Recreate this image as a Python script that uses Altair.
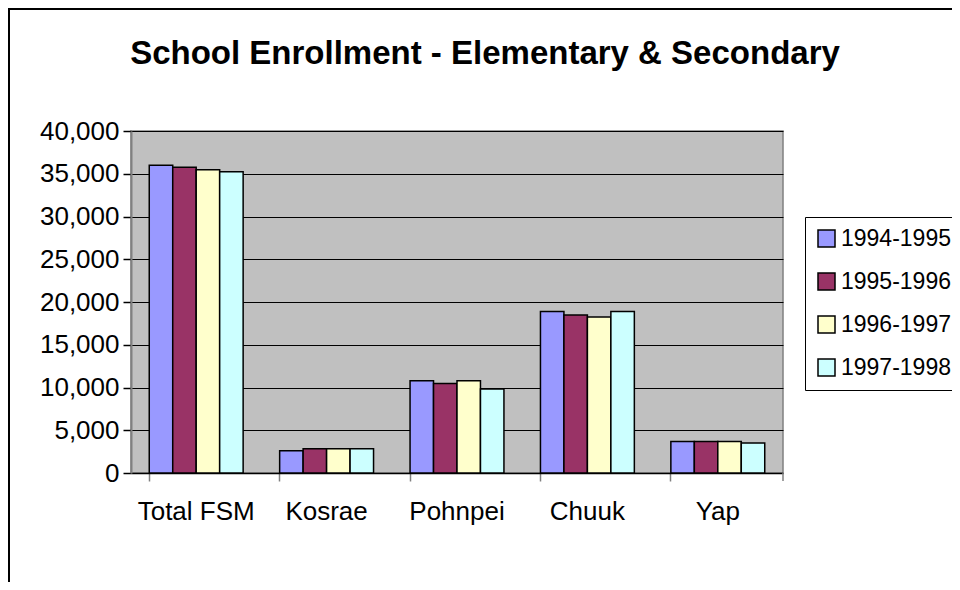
import altair as alt
import pandas as pd

regions = ["Total FSM", "Kosrae", "Pohnpei", "Chuuk", "Yap"]
years = ["1994-1995", "1995-1996", "1996-1997", "1997-1998"]
v_1994 = [36000, 2600, 10780, 18880, 3690]
v_1995 = [35750, 2840, 10470, 18490, 3690]
v_1996 = [35470, 2840, 10780, 18260, 3690]
v_1997 = [35230, 2840, 9810, 18880, 3500]
colors = ["#9999FF", "#993366", "#FFFFCC", "#CCFFFF"]
y_ticks = [0, 5000, 10000, 15000, 20000, 25000, 30000, 35000, 40000]
title_text = "School Enrollment - Elementary & Secondary"

rows = []
for yr, vals in zip(years, [v_1994, v_1995, v_1996, v_1997]):
    for r, v in zip(regions, vals):
        rows.append({"region": r, "year": yr, "value": v})
df = pd.DataFrame(rows)

FONT = "Liberation Sans"
W, H = 652, 342

bars = alt.Chart(df).mark_bar(stroke="black", strokeWidth=1.5).encode(
    x=alt.X("region:N", sort=regions, title=None,
            scale=alt.Scale(paddingInner=0.28, paddingOuter=0.14),
            axis=alt.Axis(labelAngle=0, labelFont=FONT, labelFontSize=26, labelColor="black",
                          labelPadding=17, bandPosition=0, tickColor="#808080", tickSize=8,
                          tickWidth=1.5, domainColor="black", domainWidth=1.5, grid=False)),
    xOffset=alt.XOffset("year:N", sort=years),
    y=alt.Y("value:Q", title=None,
            scale=alt.Scale(domain=[0, 40000], nice=False),
            axis=alt.Axis(values=y_ticks, format=",.0f", labelFont=FONT, labelFontSize=26,
                          labelColor="black", labelPadding=4, tickColor="black", tickSize=8,
                          tickWidth=1.5, domainColor="#808080", domainWidth=2,
                          grid=True, gridColor="black", gridWidth=1)),
    color=alt.Color("year:N", sort=years,
                    scale=alt.Scale(domain=years, range=colors),
                    legend=alt.Legend(title=None, orient="none", legendX=674, legendY=86,
                                      strokeColor="black", padding=10, fillColor="white",
                                      symbolType="square", symbolSize=289,
                                      symbolStrokeColor="black", symbolStrokeWidth=1.5,
                                      labelFont=FONT, labelFontSize=23, labelColor="black",
                                      rowPadding=19, labelOffset=3)),
)

title = alt.Chart(pd.DataFrame({"t": [title_text]})).mark_text(
    font=FONT, fontSize=33, fontWeight="bold", color="black", align="center", baseline="middle"
).encode(x=alt.value(354), y=alt.value(-77), text="t:N")

end_tick = alt.Chart(pd.DataFrame({"a": [0]})).mark_rule(color="#808080", strokeWidth=1.5).encode(
    x=alt.value(W), y=alt.value(H), y2=alt.value(H + 8))

border_top = alt.Chart(pd.DataFrame({"a": [0]})).mark_rule(color="black", strokeWidth=2).encode(
    x=alt.value(-123), x2=alt.value(W + 200), y=alt.value(-122))
border_left = alt.Chart(pd.DataFrame({"a": [0]})).mark_rule(color="black", strokeWidth=2).encode(
    x=alt.value(-122), y=alt.value(-123), y2=alt.value(H + 200))

chart = alt.layer(bars, title, end_tick, border_top, border_left).properties(
    width=W, height=H,
    autosize=alt.AutoSizeParams(type="none"),
    padding={"left": 123, "top": 123, "right": 169, "bottom": 109},
    background="white",
).configure_view(fill="#C0C0C0", stroke="#808080", strokeWidth=1.5)

chart.save("out.html", embed_options={"renderer": "svg", "actions": False})
